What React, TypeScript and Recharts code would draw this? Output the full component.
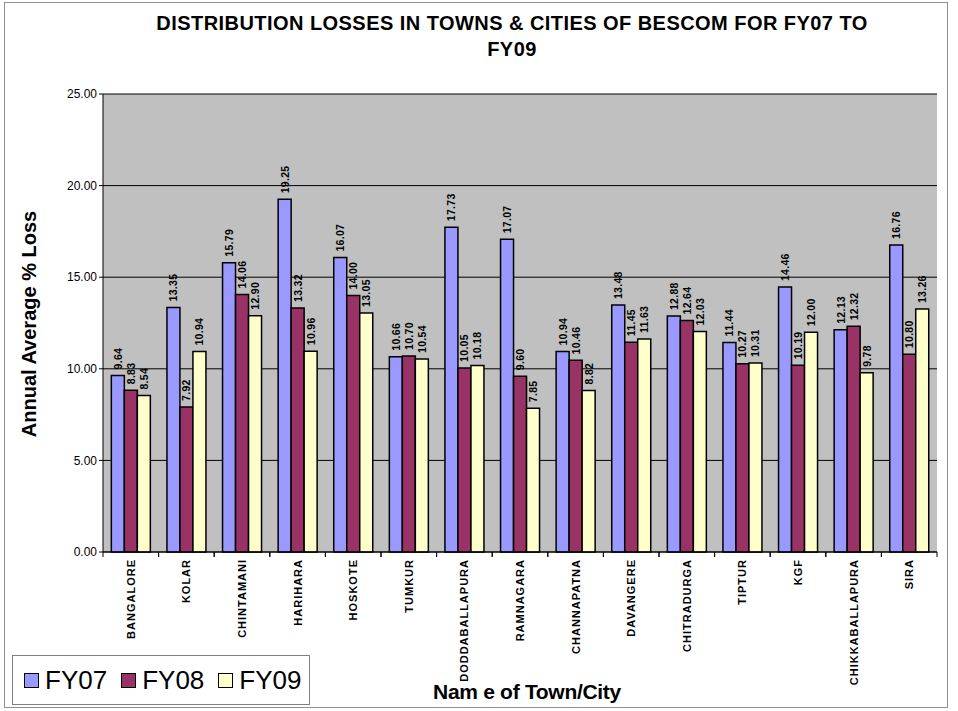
import React from 'react';
import { BarChart, Bar, XAxis, YAxis, CartesianGrid, LabelList } from 'recharts';

const towns = [
  'BANGALORE', 'KOLAR', 'CHINTAMANI', 'HARIHARA', 'HOSKOTE', 'TUMKUR', 'DODDABALLAPURA',
  'RAMNAGARA', 'CHANNAPATNA', 'DAVANGERE', 'CHITRADURGA', 'TIPTUR', 'KGF', 'CHIKKABALLAPURA', 'SIRA',
];
const fy07 = [9.64, 13.35, 15.79, 19.25, 16.07, 10.66, 17.73, 17.07, 10.94, 13.48, 12.88, 11.44, 14.46, 12.13, 16.76];
const fy08 = [8.83, 7.92, 14.06, 13.32, 14.0, 10.7, 10.05, 9.6, 10.46, 11.45, 12.64, 10.27, 10.19, 12.32, 10.8];
const fy09 = [8.54, 10.94, 12.9, 10.96, 13.05, 10.54, 10.18, 7.85, 8.82, 11.63, 12.03, 10.31, 12.0, 9.78, 13.26];
const yTicks = [0, 5, 10, 15, 20, 25];
const seriesNames = ['FY07', 'FY08', 'FY09'];
const seriesColors = ['#9999FF', '#993366', '#FFFFCC'];

const data = towns.map((name, i) => ({ name, FY07: fy07[i], FY08: fy08[i], FY09: fy09[i] }));

const W = 958;
const H = 711;
const plotLeft = 103;
const plotRight = 937;
const plotTop = 94;
const plotBottom = 552;
const bandW = (plotRight - plotLeft) / towns.length;

const font = 'Arial, "Liberation Sans", sans-serif';

const ValueLabel = (props: any) => {
  const { x, y, width, value } = props;
  const cx = x + width / 2 + 4;
  const cy = y - 6;
  return (
    <text
      x={cx}
      y={cy}
      transform={`rotate(-90, ${cx}, ${cy})`}
      textAnchor="start"
      fontSize={10.5}
      fontWeight="bold"
      fontFamily={font}
      letterSpacing={0.3}
      fill="#000"
    >
      {Number(value).toFixed(2)}
    </text>
  );
};

const TownTick = (props: any) => {
  const { x, y, payload } = props;
  const tx = x + 4;
  const ty = y - 1;
  return (
    <g>
      <line x1={x - bandW / 2} y1={plotBottom} x2={x - bandW / 2} y2={plotBottom + 5} stroke="#000" />
      <line x1={x + bandW / 2} y1={plotBottom} x2={x + bandW / 2} y2={plotBottom + 5} stroke="#000" />
      <text
        x={tx}
        y={ty}
        transform={`rotate(-90, ${tx}, ${ty})`}
        textAnchor="end"
        fontSize={11}
        fontWeight="bold"
        fontFamily={font}
        letterSpacing={1.0}
        fill="#000"
      >
        {payload.value}
      </text>
    </g>
  );
};

export default function App() {
  return (
    <div style={{ position: 'fixed', left: 0, top: 0, width: W, height: H, background: '#fff' }}>
      <div
        style={{
          position: 'absolute',
          left: 4,
          top: 2,
          width: 944,
          height: 706,
          border: '1px solid #909090',
          boxSizing: 'border-box',
        }}
      />
      <div
        style={{
          position: 'absolute',
          left: 80,
          width: 864,
          top: 10,
          textAlign: 'center',
          fontFamily: font,
          fontWeight: 'bold',
          fontSize: 20,
          lineHeight: '26px',
          letterSpacing: 0.45,
        }}
      >
        DISTRIBUTION LOSSES IN TOWNS &amp; CITIES OF BESCOM FOR FY07 TO
        <br />
        FY09
      </div>
      <div
        style={{
          position: 'absolute',
          left: 29,
          top: 324,
          transform: 'translate(-50%, -50%) rotate(-90deg)',
          whiteSpace: 'nowrap',
          fontFamily: font,
          fontWeight: 'bold',
          fontSize: 20,
        }}
      >
        Annual Average % Loss
      </div>
      <div
        style={{
          position: 'absolute',
          left: 527,
          top: 692,
          transform: 'translate(-50%, -50%)',
          whiteSpace: 'nowrap',
          fontFamily: font,
          fontWeight: 'bold',
          fontSize: 21,
          letterSpacing: -0.3,
        }}
      >
        Nam e of Town/City
      </div>
      <div
        style={{
          position: 'absolute',
          left: 12,
          top: 655,
          width: 298,
          height: 50,
          border: '1px solid #808080',
          background: '#fff',
          display: 'flex',
          alignItems: 'center',
          fontFamily: font,
          fontSize: 26,
          boxSizing: 'border-box',
          paddingLeft: 11,
        }}
      >
        {seriesNames.map((label, i) => (
          <div key={label} style={{ display: 'flex', alignItems: 'center', marginRight: 14 }}>
            <span
              style={{
                display: 'inline-block',
                width: 13,
                height: 13,
                background: seriesColors[i],
                border: '1px solid #000',
                marginRight: 6,
              }}
            />
            <span>{label}</span>
          </div>
        ))}
      </div>
      <div style={{ position: 'absolute', left: 0, top: 0 }}>
        <BarChart
          width={W}
          height={H}
          data={data}
          margin={{ top: plotTop, right: W - plotRight, bottom: 0, left: 0 }}
          barCategoryGap="15%"
          barGap={0}
        >
          <CartesianGrid vertical={false} stroke="#000" fill="#C0C0C0" />
          <XAxis
            dataKey="name"
            interval={0}
            tick={<TownTick />}
            tickLine={false}
            axisLine={{ stroke: '#000' }}
            height={H - plotBottom}
          />
          <YAxis
            domain={[0, 25]}
            ticks={yTicks}
            width={plotLeft}
            tickFormatter={(v: number) => v.toFixed(2)}
            tick={{ fontSize: 12, fill: '#000', fontFamily: font }}
            tickLine={{ stroke: '#000' }}
            tickSize={4}
            axisLine={{ stroke: '#000' }}
          />
          {seriesNames.map((s, i) => (
            <Bar key={s} dataKey={s} fill={seriesColors[i]} stroke="#000" strokeWidth={1.5} isAnimationActive={false}>
              <LabelList dataKey={s} content={<ValueLabel />} />
            </Bar>
          ))}
        </BarChart>
      </div>
    </div>
  );
}
